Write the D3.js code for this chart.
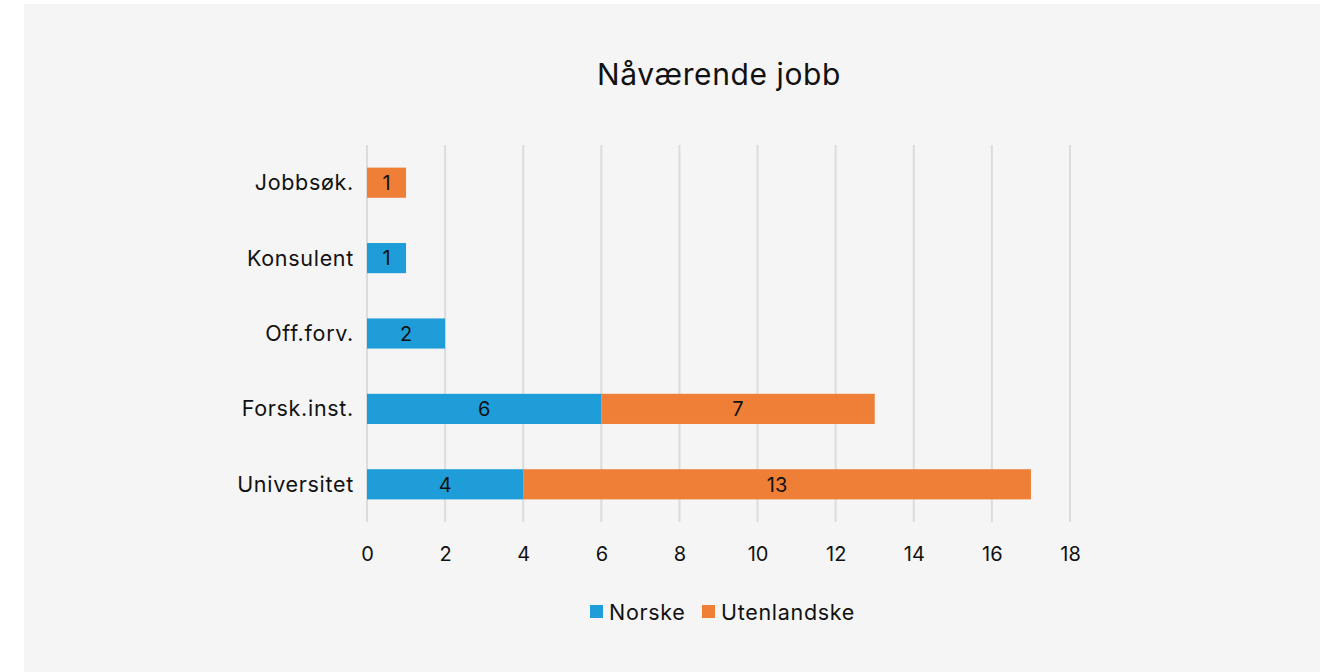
<!DOCTYPE html>
<html><head><meta charset="utf-8">
<script src="https://cdn.jsdelivr.net/npm/d3@7"></script>
<style>
html,body{margin:0;padding:0;background:#fff;}
svg{display:block;font-family:Inter,"Noto Sans",sans-serif;}
</style></head>
<body>
<svg id="chart" width="1338" height="672"></svg>
<script>
const categories = ["Jobbsøk.", "Konsulent", "Off.forv.", "Forsk.inst.", "Universitet"];
const norske = [0, 1, 2, 6, 4];
const utenlandske = [1, 0, 0, 7, 13];
const seriesNames = ["Norske", "Utenlandske"];
const seriesColors = ["#1f9dd9", "#ef7f37"];
const xTicks = [0, 2, 4, 6, 8, 10, 12, 14, 16, 18];
const title = "Nåværende jobb";

const svg = d3.select("#chart");
svg.append("rect").attr("x", 24).attr("y", 4).attr("width", 1296).attr("height", 668).attr("fill", "#f5f5f5");

const x = d3.scaleLinear().domain([0, 18]).range([367, 1070]);
const y = d3.scaleBand().domain(categories).range([145, 522]).paddingInner(0.6).paddingOuter(0.3);

svg.append("text").attr("x", 719).attr("y", 85).attr("text-anchor", "middle")
  .attr("font-size", 30).attr("letter-spacing", 0.6).attr("fill", "#111").text(title);

// gridlines
svg.append("g").selectAll("line").data(xTicks).join("line")
  .attr("x1", d => x(d)).attr("x2", d => x(d)).attr("y1", 145).attr("y2", 522)
  .attr("stroke", "#dcdcdc").attr("stroke-width", 2);

const axis = d3.axisBottom(x).tickValues(xTicks).tickSize(0).tickPadding(0);
const ag = svg.append("g").attr("transform", "translate(0,522)").call(axis);
ag.select(".domain").remove();
ag.selectAll("text").attr("font-size", 20).attr("fill", "#111").attr("dy", null).attr("y", 39)
  .style("font-family", "Inter,'Noto Sans',sans-serif");

const yAxis = d3.axisLeft(y).tickSize(0).tickPadding(0);
const yg = svg.append("g").attr("transform", "translate(354,0)").call(yAxis);
yg.select(".domain").remove();
yg.selectAll("text").attr("font-size", 21.5).attr("letter-spacing", 0.7).attr("fill", "#111").attr("dy", "0.35em")
  .style("font-family", "Inter,'Noto Sans',sans-serif");

const rows = categories.map((c, i) => ({cat: c, Norske: norske[i], Utenlandske: utenlandske[i]}));
const stacked = d3.stack().keys(seriesNames)(rows);

stacked.forEach((s, si) => {
  const g = svg.append("g");
  g.selectAll("rect").data(s.filter(d => d[1] - d[0] > 0)).join("rect")
    .attr("x", d => x(d[0])).attr("width", d => x(d[1]) - x(d[0]))
    .attr("y", d => y(d.data.cat)).attr("height", y.bandwidth())
    .attr("fill", seriesColors[si]);
  g.selectAll("text").data(s.filter(d => d[1] - d[0] > 0)).join("text")
    .attr("x", d => (x(d[0]) + x(d[1])) / 2).attr("y", d => y(d.data.cat) + y.bandwidth() / 2)
    .attr("dy", "0.36em").attr("text-anchor", "middle").attr("font-size", 20).attr("fill", "#111")
    .text(d => d[1] - d[0]);
});

// legend
const legend = svg.append("g");
const lx = [590, 702];
seriesNames.forEach((n, i) => {
  legend.append("rect").attr("x", lx[i]).attr("y", 605).attr("width", 13).attr("height", 13).attr("fill", seriesColors[i]);
  legend.append("text").attr("x", lx[i] + 19).attr("y", 612).attr("dy", "0.35em")
    .attr("font-size", 21.5).attr("letter-spacing", 0.7).attr("fill", "#111").text(n);
});
</script>
</body></html>
